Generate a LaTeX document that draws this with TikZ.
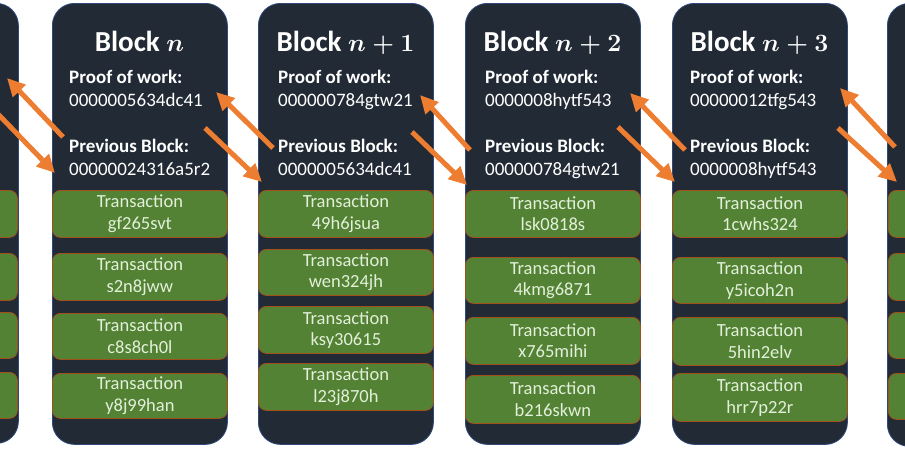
\documentclass[tikz,border=0pt]{standalone}
\usepackage{fontspec}
\setmainfont{Carlito}
\usetikzlibrary{arrows.meta}
\definecolor{blk}{HTML}{222A35}
\definecolor{blkedge}{HTML}{2F4A7A}
\definecolor{txfill}{HTML}{548235}
\definecolor{txedge}{HTML}{A0501A}
\definecolor{txtext}{HTML}{E2F0D9}
\definecolor{arr}{HTML}{ED7D31}
\tikzset{
 blockbox/.style={draw=blkedge, line width=0.8pt, fill=blk, rounded corners=22pt, minimum width=175pt, anchor=north west, inner sep=0pt},
 txbox/.style={draw=txedge, line width=0.8pt, fill=txfill, rounded corners=8pt, minimum width=175pt, anchor=north west, inner sep=0pt, text=txtext, font=\fontsize{18.5}{21.5}\selectfont, align=center},
 title/.style={text=white, font=\fontsize{29}{32}\selectfont\bfseries\boldmath, anchor=base, inner sep=0pt},
 lab/.style={text=white, font=\fontsize{19}{22}\selectfont\bfseries, anchor=base west, inner sep=0pt},
 val/.style={text=white, font=\fontsize{19}{22}\selectfont, anchor=base west, inner sep=0pt},
 link/.style={draw=arr, line width=5pt, -{Triangle[length=18pt,width=17pt]}},
}
\begin{document}
\begin{tikzpicture}[x=1pt,y=-1pt]
\useasboundingbox (0,0) rectangle (905,459);
\fill[white] (0,0) rectangle (905,459);
\clip (0,0) rectangle (905,459);

% blocks
\node[blockbox, minimum height=440pt] (bL) at (-157,3) {};
\node[blockbox, minimum height=441pt] (b0) at (52,3) {};
\node[blockbox, minimum height=441pt] (b1) at (258,3) {};
\node[blockbox, minimum height=441pt] (b2) at (465,3) {};
\node[blockbox, minimum height=441pt] (b3) at (672,3) {};
\node[blockbox, minimum height=443pt] (bR) at (887,3) {};

% left partial transactions
\node[txbox, minimum height=47pt] (tL1) at (-158,190) {};
\node[txbox, minimum height=47pt] (tL2) at (-158,253) {};
\node[txbox, minimum height=46pt] (tL3) at (-158,312) {};
\node[txbox, minimum height=46pt] (tL4) at (-158,372) {};

% right partial transactions
\node[txbox, minimum height=47pt] (tR1) at (888,190) {};
\node[txbox, minimum height=47pt] (tR2) at (888,253) {};
\node[txbox, minimum height=46pt] (tR3) at (888,312) {};
\node[txbox, minimum height=46pt] (tR4) at (888,373) {};

% block n
\node[title] (h0) at (139.5,51) {Block $n$};
\node[lab] (p0) at (69,83) {Proof of work:};
\node[val] (pv0) at (69,106) {0000005634dc41};
\node[lab] (q0) at (69,152) {Previous Block:};
\node[val] (qv0) at (69,175) {00000024316a5r2};
\node[txbox, minimum height=47pt] (t01) at (52,190) {Transaction\\gf265svt};
\node[txbox, minimum height=47pt] (t02) at (52,253) {Transaction\\s2n8jww};
\node[txbox, minimum height=46pt] (t03) at (52,313) {Transaction\\c8s8ch0l};
\node[txbox, minimum height=45pt] (t04) at (52,373) {Transaction\\y8j99han};

% block n+1
\node[title] (h1) at (345.5,51) {Block $n+1$};
\node[lab] (p1) at (278,83) {Proof of work:};
\node[val] (pv1) at (278,106) {000000784gtw21};
\node[lab] (q1) at (278,152) {Previous Block:};
\node[val] (qv1) at (278,175) {0000005634dc41};
\node[txbox, minimum height=47pt] (t11) at (258,190) {Transaction\\49h6jsua};
\node[txbox, minimum height=46pt] (t12) at (258,249) {Transaction\\wen324jh};
\node[txbox, minimum height=47pt] (t13) at (258,306) {Transaction\\ksy30615};
\node[txbox, minimum height=47pt] (t14) at (258,363) {Transaction\\l23j870h};

% block n+2
\node[title] (h2) at (552.5,51) {Block $n+2$};
\node[lab] (p2) at (485,83) {Proof of work:};
\node[val] (pv2) at (485,106) {0000008hytf543};
\node[lab] (q2) at (485,152) {Previous Block:};
\node[val] (qv2) at (485,175) {000000784gtw21};
\node[txbox, minimum height=47pt] (t21) at (465,190) {Transaction\\lsk0818s};
\node[txbox, minimum height=46pt] (t22) at (465,257) {Transaction\\4kmg6871};
\node[txbox, minimum height=47pt] (t23) at (465,317) {Transaction\\x765mihi};
\node[txbox, minimum height=48pt] (t24) at (465,375) {Transaction\\b216skwn};

% block n+3
\node[title] (h3) at (759.5,51) {Block $n+3$};
\node[lab] (p3) at (690,83) {Proof of work:};
\node[val] (pv3) at (690,106) {00000012tfg543};
\node[lab] (q3) at (690,152) {Previous Block:};
\node[val] (qv3) at (690,175) {0000008hytf543};
\node[txbox, minimum height=47pt] (t31) at (672,190) {Transaction\\1cwhs324};
\node[txbox, minimum height=46pt] (t32) at (672,257) {Transaction\\y5icoh2n};
\node[txbox, minimum height=48pt] (t33) at (672,317) {Transaction\\5hin2elv};
\node[txbox, minimum height=48pt] (t34) at (672,373) {Transaction\\hrr7p22r};

% arrow end points
\coordinate (uLs) at (63,137);   \coordinate (uLe) at (7,78);
\coordinate (dLs) at (-4,112);   \coordinate (dLe) at (55,173);
\coordinate (u0s) at (273,148);  \coordinate (u0e) at (216,92);
\coordinate (d0s) at (205,128);  \coordinate (d0e) at (262,182);
\coordinate (u1s) at (470,150);  \coordinate (u1e) at (420,95);
\coordinate (d1s) at (412,132);  \coordinate (d1e) at (467,185);
\coordinate (u2s) at (685,150);  \coordinate (u2e) at (630,93);
\coordinate (d2s) at (618,127);  \coordinate (d2e) at (675,182);
\coordinate (u3s) at (895,147);  \coordinate (u3e) at (840,88);
\coordinate (d3s) at (838,128);  \coordinate (d3e) at (897,182);

\foreach \i in {L,0,1,2,3}{
  \draw[link] (u\i s) -- (u\i e);
  \draw[link] (d\i s) -- (d\i e);
}
\end{tikzpicture}
\end{document}
